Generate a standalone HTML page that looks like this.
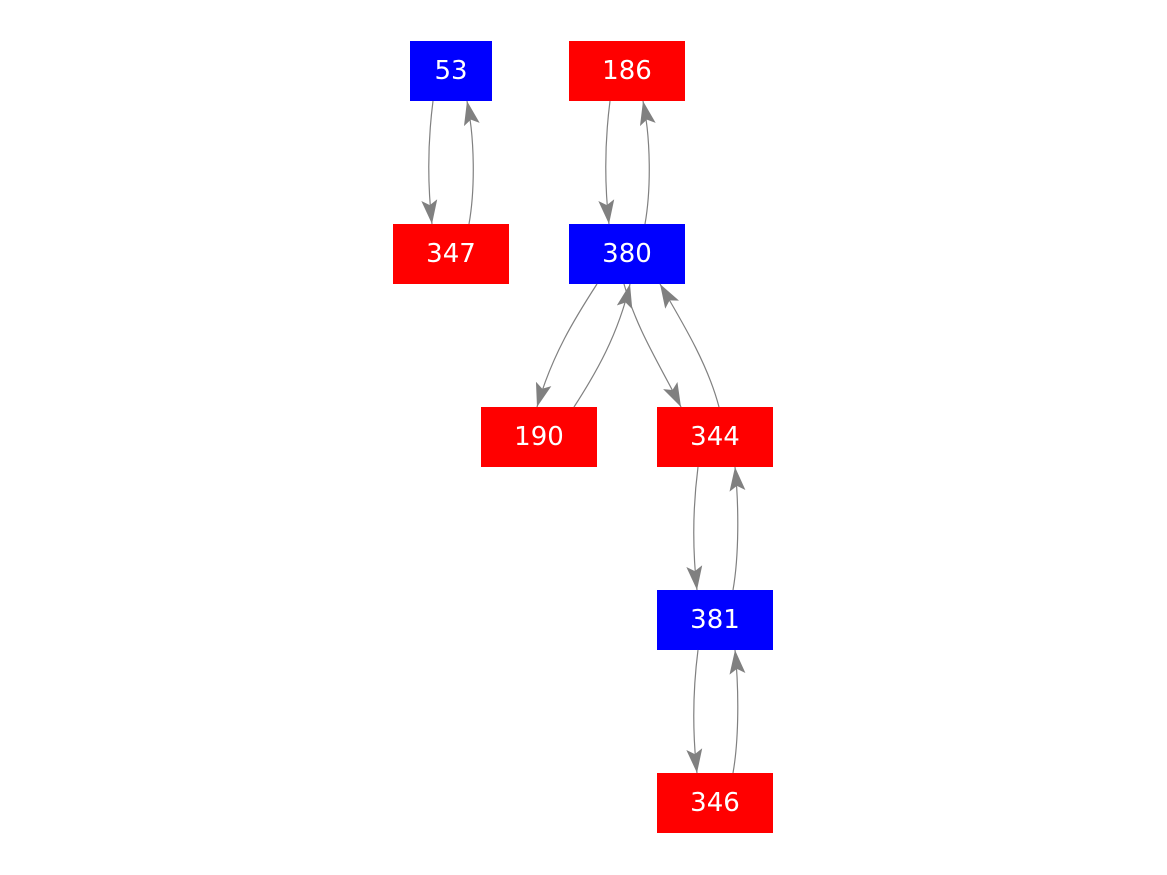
<!DOCTYPE html>
<html><head><style>
body{margin:0;background:#fff;}
svg{display:block;}
text{font-family:"DejaVu Sans","Liberation Sans",sans-serif;font-size:26px;fill:#fff;text-anchor:middle;dominant-baseline:central;}
path{fill:none;stroke:#808080;stroke-width:1.2;}
</style></head><body>
<svg width="1167" height="875" viewBox="0 0 1167 875">
<defs>
<marker id="a" markerUnits="userSpaceOnUse" markerWidth="26" markerHeight="18" refX="24" refY="8" orient="auto">
<polygon points="0,0 24,8 0,16 5,8" fill="#808080"/>
</marker>
</defs>
<rect x="410" y="41" width="82" height="60" fill="#0000ff"/><text x="451" y="71">53</text>
<rect x="569" y="41" width="116" height="60" fill="#ff0000"/><text x="627" y="71">186</text>
<rect x="393" y="224" width="116" height="60" fill="#ff0000"/><text x="451" y="254">347</text>
<rect x="569" y="224" width="116" height="60" fill="#0000ff"/><text x="627" y="254">380</text>
<rect x="481" y="407" width="116" height="60" fill="#ff0000"/><text x="539" y="437">190</text>
<rect x="657" y="407" width="116" height="60" fill="#ff0000"/><text x="715" y="437">344</text>
<rect x="657" y="590" width="116" height="60" fill="#0000ff"/><text x="715" y="620">381</text>
<rect x="657" y="773" width="116" height="60" fill="#ff0000"/><text x="715" y="803">346</text>

<path d="M433,101 C428,140 427,180 432,224" marker-end="url(#a)"/>
<path d="M469,224 C475,190 475,140 467,101" marker-end="url(#a)"/>
<path d="M610,101 C605,140 604,180 609,224" marker-end="url(#a)"/>
<path d="M645,224 C651,190 651,140 643,101" marker-end="url(#a)"/>
<path d="M597,284 C575,318 552,355 537,407" marker-end="url(#a)"/>
<path d="M574,407 C596,373 618,335 630,284" marker-end="url(#a)"/>
<path d="M624,284 C637,330 660,365 681,407" marker-end="url(#a)"/>
<path d="M719,407 C708,365 684,325 660,284" marker-end="url(#a)"/>
<path d="M698,467 C693,506 692,546 697,590" marker-end="url(#a)"/>
<path d="M733,590 C739,556 739,506 735,467" marker-end="url(#a)"/>
<path d="M698,650 C693,689 692,729 697,773" marker-end="url(#a)"/>
<path d="M733,773 C739,739 739,689 735,650" marker-end="url(#a)"/>
</svg>
</body></html>
